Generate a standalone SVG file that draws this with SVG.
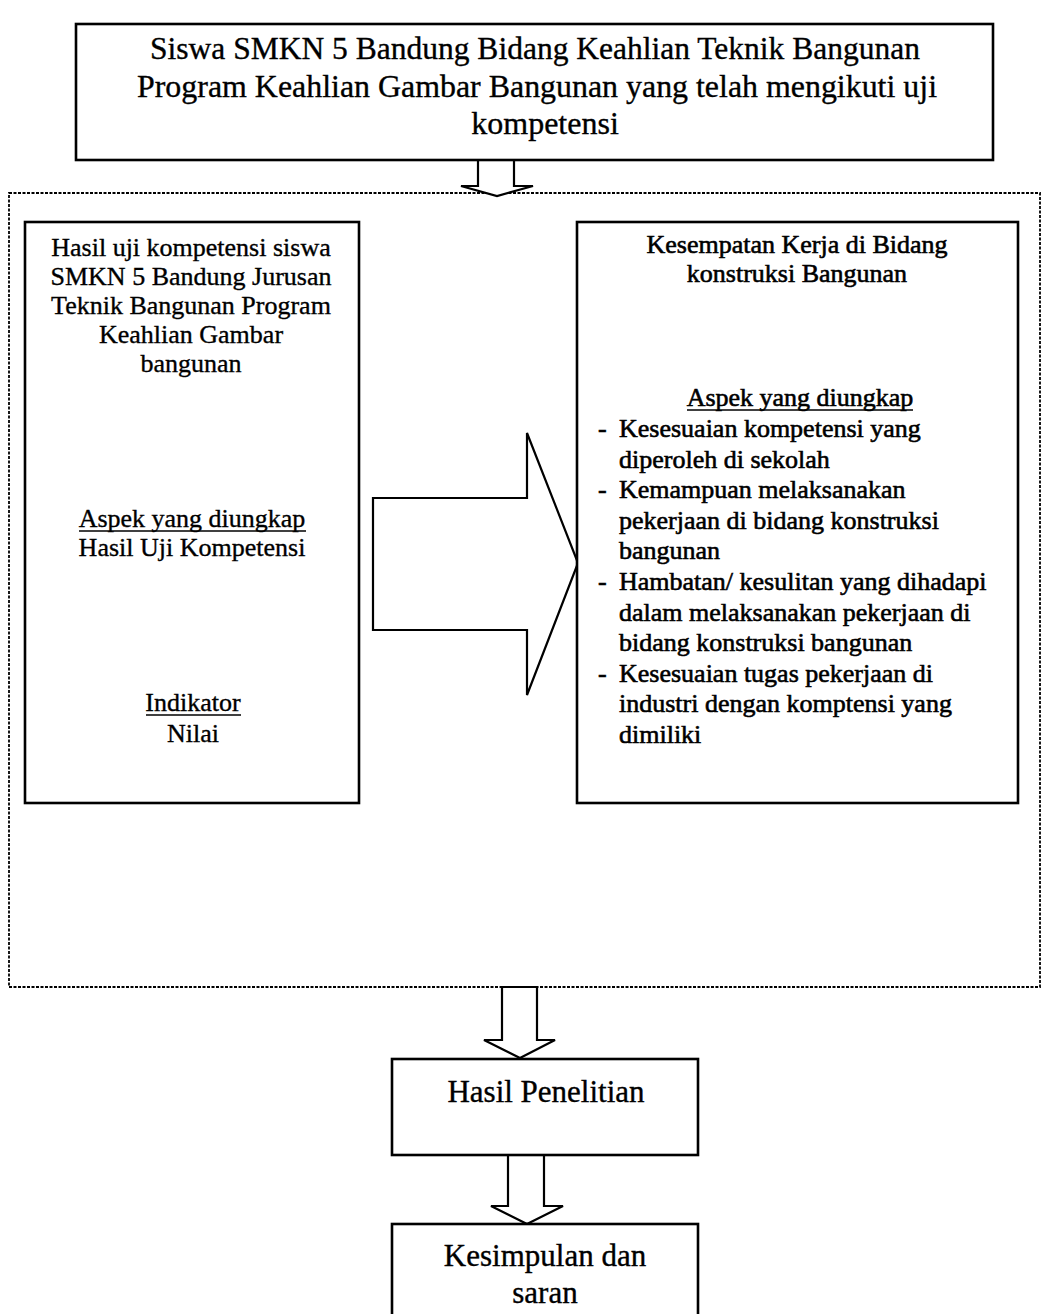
<svg xmlns="http://www.w3.org/2000/svg" width="1042" height="1314" viewBox="0 0 1042 1314">
<style>
.box{fill:#fff;stroke:#000;stroke-width:2.6}
.arr{fill:#fff;stroke:#000;stroke-width:2.2;stroke-linejoin:miter}
.cont{fill:none;stroke:#000;stroke-width:1.8;stroke-dasharray:3 1.5}
text{font-family:"Liberation Serif","Times New Roman",serif;fill:#000;stroke:#000;stroke-width:0.35}
.t32{font-size:32px}
.t26{font-size:26px}
.t31{font-size:31px}
.c{text-anchor:middle}
.bold{stroke-width:0.6}
.ul{stroke:#000;stroke-width:1.5}
</style>
<rect width="1042" height="1314" fill="#fff"/>
<g id="container">
<rect class="cont" x="9" y="193" width="1031" height="794"/>
</g>
<g id="connectors">
<polygon class="arr" points="478,160 514,160 514,186 533,186 497,196 461,186 478,186"/>
<polygon class="arr" points="373,498 527,498 527,433 578,563 527,695 527,630 373,630"/>
<polygon class="arr" points="502,987 537,987 537,1040 555,1040 520,1058 484,1040 502,1040"/>
<polygon class="arr" points="508,1155 544,1155 544,1206 563,1206 527,1224 491,1206 508,1206"/>
</g>
<g id="node-top">
<rect class="box" x="76" y="24" width="917" height="136"/>
<text class="t32 c" x="535" y="59" textLength="770" lengthAdjust="spacingAndGlyphs">Siswa SMKN 5 Bandung Bidang Keahlian Teknik Bangunan</text>
<text class="t32 c" x="537" y="97" textLength="800" lengthAdjust="spacingAndGlyphs">Program Keahlian Gambar Bangunan yang telah mengikuti uji</text>
<text class="t32 c" x="545" y="134">kompetensi</text>
</g>
<g id="node-left">
<rect class="box" x="25" y="222" width="334" height="581"/>
<text class="t26 c" x="191" y="256">Hasil uji kompetensi siswa</text>
<text class="t26 c" x="191" y="285">SMKN 5 Bandung Jurusan</text>
<text class="t26 c" x="191" y="314">Teknik Bangunan Program</text>
<text class="t26 c" x="191" y="343">Keahlian Gambar</text>
<text class="t26 c" x="191" y="372">bangunan</text>
<text class="t26 c" x="192" y="527">Aspek yang diungkap</text>
<line class="ul" x1="79" y1="531" x2="306" y2="531"/>
<text class="t26 c" x="192" y="556">Hasil Uji Kompetensi</text>
<text class="t26 c" x="193" y="711">Indikator</text>
<line class="ul" x1="146" y1="715" x2="241" y2="715"/>
<text class="t26 c" x="193" y="742">Nilai</text>
</g>
<g id="node-right">
<rect class="box" x="577" y="222" width="441" height="581"/>
<text class="t26 c bold" x="797" y="253">Kesempatan Kerja di Bidang</text>
<text class="t26 c bold" x="797" y="282">konstruksi Bangunan</text>
<text class="t26 c bold" x="800" y="406">Aspek yang diungkap</text>
<line class="ul" x1="687" y1="410" x2="913" y2="410"/>
<text class="t26 bold" x="598" y="437">-</text>
<text class="t26 bold" x="619" y="437">Kesesuaian kompetensi yang</text>
<text class="t26 bold" x="619" y="468">diperoleh di sekolah</text>
<text class="t26 bold" x="598" y="498">-</text>
<text class="t26 bold" x="619" y="498">Kemampuan melaksanakan</text>
<text class="t26 bold" x="619" y="529">pekerjaan di bidang konstruksi</text>
<text class="t26 bold" x="619" y="559">bangunan</text>
<text class="t26 bold" x="598" y="590">-</text>
<text class="t26 bold" x="619" y="590">Hambatan/ kesulitan yang dihadapi</text>
<text class="t26 bold" x="619" y="621">dalam melaksanakan pekerjaan di</text>
<text class="t26 bold" x="619" y="651">bidang konstruksi bangunan</text>
<text class="t26 bold" x="598" y="682">-</text>
<text class="t26 bold" x="619" y="682">Kesesuaian tugas pekerjaan di</text>
<text class="t26 bold" x="619" y="712">industri dengan komptensi yang</text>
<text class="t26 bold" x="619" y="743">dimiliki</text>
</g>
<g id="node-hasil">
<rect class="box" x="392" y="1059" width="306" height="96"/>
<text class="t31 c" x="546" y="1102">Hasil Penelitian</text>
</g>
<g id="node-kesimpulan">
<rect class="box" x="392" y="1224" width="306" height="100"/>
<text class="t31 c" x="545" y="1266">Kesimpulan dan</text>
<text class="t31 c" x="545" y="1303">saran</text>
</g>
</svg>
